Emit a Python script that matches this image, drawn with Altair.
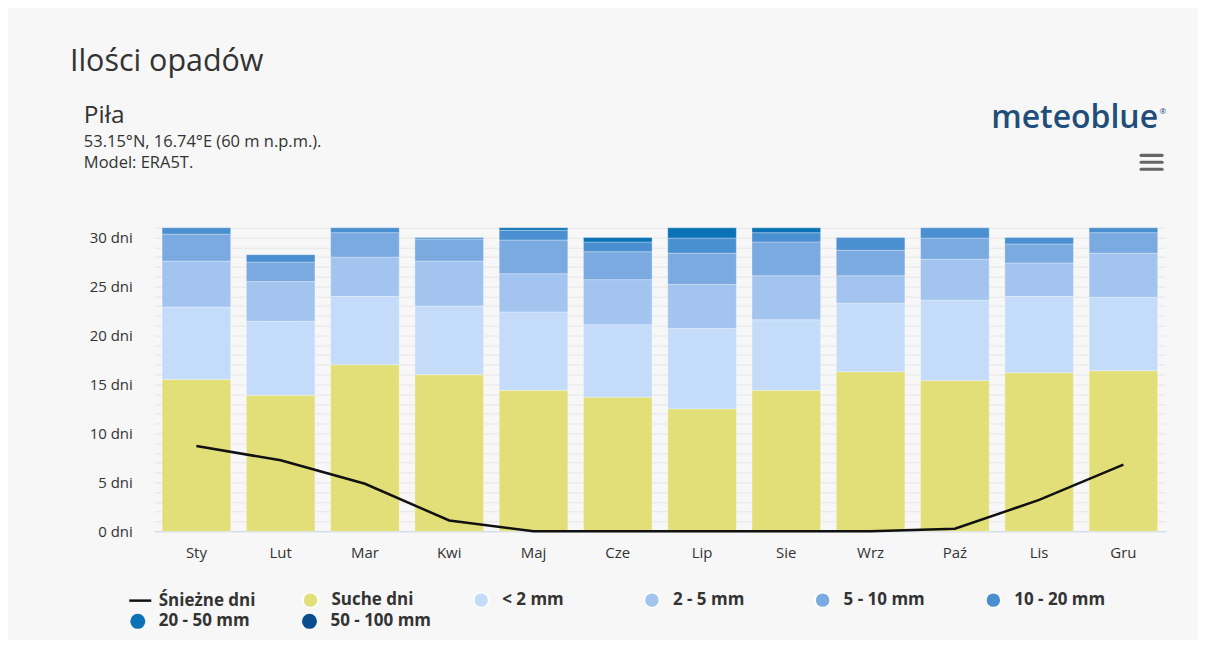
import altair as alt
import pandas as pd

months = ["Sty", "Lut", "Mar", "Kwi", "Maj", "Cze", "Lip", "Sie", "Wrz", "Paź", "Lis", "Gru"]
categories = ["Śnieżne dni", "Suche dni", "< 2 mm", "2 - 5 mm", "5 - 10 mm",
              "10 - 20 mm", "20 - 50 mm", "50 - 100 mm"]
colors = ["#111111", "#e3df78", "#c4dcfa", "#a3c4ef", "#7aaae0",
          "#4a8fd0", "#0b72b5", "#0a4d8c"]

dry = [15.5, 13.9, 17.0, 16.0, 14.4, 13.7, 12.5, 14.4, 16.3, 15.4, 16.2, 16.4]
mm_lt2 = [7.4, 7.55, 7.0, 7.0, 8.0, 7.4, 8.2, 7.2, 7.0, 8.2, 7.8, 7.5]
mm2_5 = [4.7, 4.05, 4.0, 4.6, 3.9, 4.6, 4.5, 4.5, 2.8, 4.2, 3.4, 4.5]
mm5_10 = [2.75, 2.0, 2.5, 2.25, 3.45, 2.85, 3.2, 3.45, 2.6, 2.15, 1.95, 2.1]
mm10_20 = [0.65, 0.75, 0.5, 0.15, 1.0, 1.0, 1.55, 0.95, 1.3, 1.05, 0.65, 0.5]
mm20_50 = [0.0, 0.0, 0.0, 0.0, 0.25, 0.45, 1.05, 0.5, 0.0, 0.0, 0.0, 0.0]
mm50_100 = [0.0, 0.0, 0.0, 0.0, 0.0, 0.0, 0.0, 0.0, 0.0, 0.0, 0.0, 0.0]
snow = [8.7, 7.25, 4.85, 1.1, 0.0, 0.0, 0.0, 0.0, 0.0, 0.25, 3.2, 6.8]

series = [dry, mm_lt2, mm2_5, mm5_10, mm10_20, mm20_50, mm50_100]
rows = []
for k, vals in enumerate(series):
    for m, v in zip(months, vals):
        if v > 0:
            rows.append({"month": m, "cat": categories[k + 1], "days": v, "order": k})
bars_df = pd.DataFrame(rows)
snow_df = pd.DataFrame({"month": months, "days": snow, "name": categories[0]})
heavy_df = pd.DataFrame({"cat2": categories[6:]})

FONT = "Open Sans"
TXT = "#333333"
LEG_FS = 17

x_enc = alt.X(
    "month:N", sort=months,
    scale=alt.Scale(domain=months, paddingInner=0.186, paddingOuter=0.093),
    axis=alt.Axis(title=None, labelAngle=0, ticks=False, domain=True,
                  domainColor="#ccd6eb", domainWidth=1, labelPadding=14,
                  labelFontSize=15, labelColor=TXT, labelFont=FONT, grid=False),
)
y_axis = alt.Axis(title=None, values=list(range(32)),
                  labelExpr="datum.value % 5 == 0 ? datum.value + ' dni' : ''",
                  grid=True, gridColor="#e6e6e6", gridWidth=1, ticks=False,
                  domain=False, labelPadding=22, labelFontSize=15,
                  labelColor=TXT, labelFont=FONT)
y_scale = alt.Scale(domain=[0, 31], nice=False)

common_leg = dict(title=None, orient="none", direction="horizontal", padding=0,
                  labelFontSize=LEG_FS, labelFontWeight="bold", labelColor=TXT,
                  labelFont=FONT, gridAlign="all")

bars = alt.Chart(bars_df).mark_bar(stroke="#ffffff", strokeWidth=0.6, strokeOpacity=0.5).encode(
    x=x_enc,
    y=alt.Y("days:Q", stack="zero", scale=y_scale, axis=y_axis),
    color=alt.Color("cat:N", scale=alt.Scale(domain=categories[1:], range=colors[1:]),
                    legend=alt.Legend(values=categories[1:6], columns=5, columnPadding=48,
                                      legendX=148, legendY=364.5, symbolType="circle",
                                      symbolSize=225, labelOffset=12.5, **common_leg)),
    order=alt.Order("order:Q", sort="ascending"),
)

line = alt.Chart(snow_df).mark_line(strokeWidth=2.5).encode(
    x=x_enc,
    y=alt.Y("days:Q", scale=y_scale, axis=y_axis),
    stroke=alt.Stroke("name:N", scale=alt.Scale(domain=categories[:1], range=colors[:1]),
                      legend=alt.Legend(legendX=-26.5, legendY=361, symbolType="stroke",
                                        symbolSize=484, symbolStrokeWidth=2.5,
                                        labelOffset=6, **common_leg)),
)

heavy = alt.Chart(heavy_df).mark_circle(opacity=0).encode(
    x=alt.value(0), y=alt.value(0),
    fill=alt.Fill("cat2:N", scale=alt.Scale(domain=categories[6:], range=colors[6:]),
                  legend=alt.Legend(columns=2, columnPadding=41, legendX=-25, legendY=385.5,
                                    symbolType="circle", symbolSize=225, symbolOpacity=1,
                                    labelOffset=12.5, **common_leg)),
)

one = alt.Data(values=[{}])

def txt(s, x, y, size, weight="normal", color=TXT, align="left", font=FONT):
    return alt.Chart(one).mark_text(
        text=s, align=align, baseline="alphabetic", fontSize=size,
        fontWeight=weight, color=color, font=font
    ).encode(x=alt.value(x), y=alt.value(y))

title = txt("Ilości opadów", -84.5, -156.6, 30.5)
place = txt("Piła", -70.5, -104.6, 24.5)
coords = txt("53.15°N, 16.74°E (60 m n.p.m.).", -70.5, -80.6, 16.5)
model = txt("Model: ERA5T.", -70.5, -59.6, 16.5)
logo = txt("meteoblue", 1005.5, -99.6, 32, weight=600, color="#1e4e79", align="right")
reg = txt("®", 1007, -114, 8, color="#1e4e79")

def hline(y):
    return alt.Chart(one).mark_rule(color="#666666", strokeWidth=3.2, strokeCap="round").encode(
        x=alt.value(988.5), x2=alt.value(1009.5), y=alt.value(y))

chart = alt.layer(
    bars, line, heavy, title, place, coords, model, logo, reg,
    hline(-72.6), hline(-65.6), hline(-58.6),
).properties(
    width=1013, height=304,
    background="#f7f7f7",
    padding={"left": 146.5, "top": 219.6, "right": 32.5, "bottom": 108.4},
    autosize=alt.AutoSizeParams(type="none"),
).configure_view(stroke=None)

chart.save("out.html", embed_options={"renderer": "svg", "actions": False})
